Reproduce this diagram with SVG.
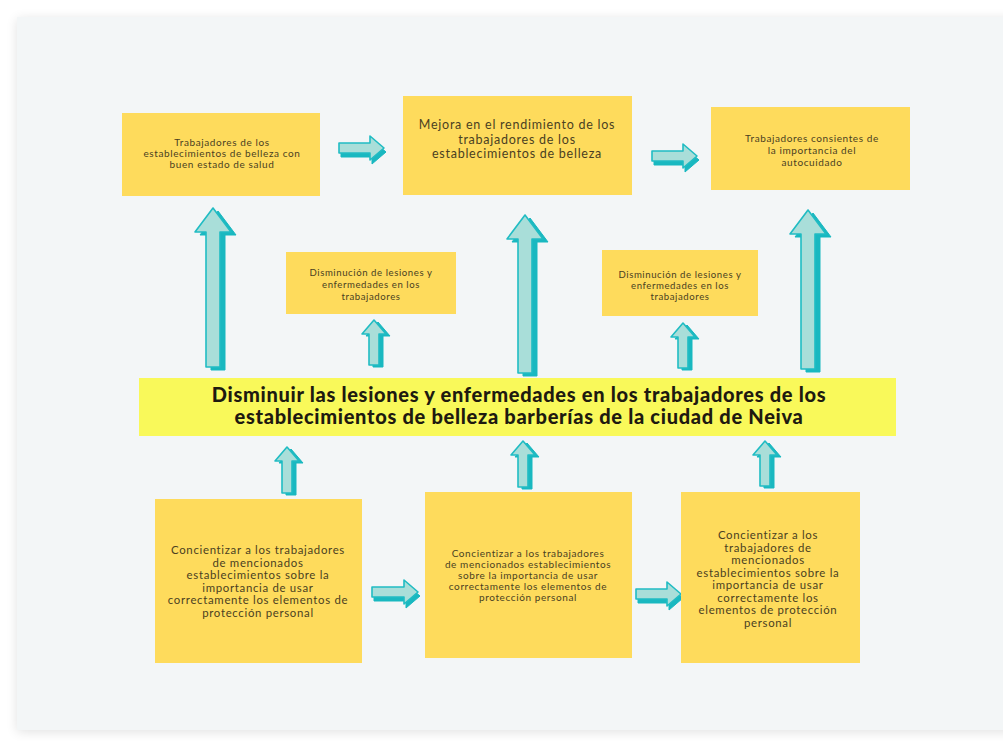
<svg xmlns="http://www.w3.org/2000/svg" width="1003" height="741" viewBox="0 0 1003 741">
<defs>
<filter id="sh" x="-5%" y="-5%" width="110%" height="110%">
<feGaussianBlur in="SourceAlpha" stdDeviation="6"/>
<feOffset dx="0" dy="2"/>
<feComponentTransfer><feFuncA type="linear" slope="0.12"/></feComponentTransfer>
<feMerge><feMergeNode/><feMergeNode in="SourceGraphic"/></feMerge>
</filter>
</defs>
<style>
.box{fill:#fedb5c}
.bar{fill:#f9f95a}
.t{font-family:Lato,"Noto Sans",sans-serif;fill:#4a3f22;text-anchor:middle;letter-spacing:0.06em}
.tb{font-family:Lato,"Liberation Sans",sans-serif;font-weight:900;fill:#1e1a10;text-anchor:middle;font-size:20px;letter-spacing:0.035em}
.ex{fill:#19b8c0;stroke:#19b8c0;stroke-width:1;stroke-linejoin:round}
.fc{fill:#a9ded9;stroke:#20bcc3;stroke-width:1.6;stroke-linejoin:round}
</style>
<rect width="1003" height="741" fill="#ffffff"/>
<rect x="17" y="17" width="1000" height="713" fill="#f3f6f7" filter="url(#sh)"/>

<g id="connectors">
<g transform="translate(5,3)"><polygon class="ex" points="213,208 231,232 220,232 220,367 206,367 206,232 195,232"/></g>
<polygon class="fc" points="213,208 231,232 220,232 220,367 206,367 206,232 195,232"/>
<g transform="translate(5,3)"><polygon class="ex" points="525,215 543,239 532,239 532,373 518,373 518,239 507,239"/></g>
<polygon class="fc" points="525,215 543,239 532,239 532,373 518,373 518,239 507,239"/>
<g transform="translate(5,3)"><polygon class="ex" points="808,210 826,234 815,234 815,369 801,369 801,234 790,234"/></g>
<polygon class="fc" points="808,210 826,234 815,234 815,369 801,369 801,234 790,234"/>
<g transform="translate(4,2)"><polygon class="ex" points="374,320 386,334 379,334 379,365 369,365 369,334 362,334"/></g>
<polygon class="fc" points="374,320 386,334 379,334 379,365 369,365 369,334 362,334"/>
<g transform="translate(4,2)"><polygon class="ex" points="683,323 695,337 688,337 688,368 678,368 678,337 671,337"/></g>
<polygon class="fc" points="683,323 695,337 688,337 688,368 678,368 678,337 671,337"/>
<g transform="translate(4,2)"><polygon class="ex" points="287,447 299,461 292,461 292,493 282,493 282,461 275,461"/></g>
<polygon class="fc" points="287,447 299,461 292,461 292,493 282,493 282,461 275,461"/>
<g transform="translate(4,2)"><polygon class="ex" points="523,441 535,455 528,455 528,487 518,487 518,455 511,455"/></g>
<polygon class="fc" points="523,441 535,455 528,455 528,487 518,487 518,455 511,455"/>
<g transform="translate(4,2)"><polygon class="ex" points="765,441 777,455 770,455 770,486 760,486 760,455 753,455"/></g>
<polygon class="fc" points="765,441 777,455 770,455 770,486 760,486 760,455 753,455"/>
<g transform="translate(2,4)"><polygon class="ex" points="384,148 370,136 370,143 339,143 339,153 370,153 370,160"/></g>
<polygon class="fc" points="384,148 370,136 370,143 339,143 339,153 370,153 370,160"/>
<g transform="translate(2,4)"><polygon class="ex" points="697,156 683,144 683,151 652,151 652,161 683,161 683,168"/></g>
<polygon class="fc" points="697,156 683,144 683,151 652,151 652,161 683,161 683,168"/>
<g transform="translate(2,4)"><polygon class="ex" points="418,592 404,580 404,587 372,587 372,597 404,597 404,604"/></g>
<polygon class="fc" points="418,592 404,580 404,587 372,587 372,597 404,597 404,604"/>
<g transform="translate(2,4)"><polygon class="ex" points="681,594 667,582 667,589 636,589 636,599 667,599 667,606"/></g>
<polygon class="fc" points="681,594 667,582 667,589 636,589 636,599 667,599 667,606"/>
</g>

<g id="top1">
<rect class="box" x="122" y="113" width="198" height="83"/>
<text class="t" font-size="10" x="222"><tspan x="222" y="146">Trabajadores de los</tspan><tspan x="222" y="157">establecimientos de belleza con</tspan><tspan x="222" y="168">buen estado de salud</tspan></text>
</g>
<g id="top2">
<rect class="box" x="403" y="96" width="229" height="99"/>
<text class="t" font-size="12.5" x="517"><tspan x="517" y="129">Mejora en el rendimiento de los</tspan><tspan x="517" y="144">trabajadores de los</tspan><tspan x="517" y="158">establecimientos de belleza</tspan></text>
</g>
<g id="top3">
<rect class="box" x="711" y="107" width="199" height="83"/>
<text class="t" font-size="10" x="812"><tspan x="812" y="142">Trabajadores consientes de</tspan><tspan x="812" y="154">la importancia del</tspan><tspan x="812" y="166">autocuidado</tspan></text>
</g>
<g id="mid1">
<rect class="box" x="286" y="252" width="170" height="62"/>
<text class="t" font-size="9.6" x="371"><tspan x="371" y="276">Disminución de lesiones y</tspan><tspan x="371" y="288">enfermedades en los</tspan><tspan x="371" y="300">trabajadores</tspan></text>
</g>
<g id="mid2">
<rect class="box" x="602" y="250" width="156" height="66"/>
<text class="t" font-size="9.6" x="680"><tspan x="680" y="278">Disminución de lesiones y</tspan><tspan x="680" y="289">enfermedades en los</tspan><tspan x="680" y="300">trabajadores</tspan></text>
</g>
<g id="center">
<rect class="bar" x="139" y="378" width="757" height="58"/>
<text class="tb" x="519"><tspan x="519" y="402">Disminuir las lesiones y enfermedades en los trabajadores de los</tspan><tspan x="519" y="424">establecimientos de belleza barberías de la ciudad de Neiva</tspan></text>
</g>
<g id="bot1">
<rect class="box" x="155" y="499" width="207" height="164"/>
<text class="t" font-size="11.4" x="258"><tspan x="258" y="554">Concientizar a los trabajadores</tspan><tspan x="258" y="566.5">de mencionados</tspan><tspan x="258" y="579">establecimientos sobre la</tspan><tspan x="258" y="591.5">importancia de usar</tspan><tspan x="258" y="604">correctamente los elementos de</tspan><tspan x="258" y="616.5">protección personal</tspan></text>
</g>
<g id="bot2">
<rect class="box" x="425" y="492" width="207" height="166"/>
<text class="t" font-size="10" x="528"><tspan x="528" y="557">Concientizar a los trabajadores</tspan><tspan x="528" y="568">de mencionados establecimientos</tspan><tspan x="528" y="579">sobre la importancia de usar</tspan><tspan x="528" y="590">correctamente los elementos de</tspan><tspan x="528" y="601">protección personal</tspan></text>
</g>
<g id="bot3">
<rect class="box" x="681" y="492" width="179" height="171"/>
<text class="t" font-size="11.4" x="768"><tspan x="768" y="539">Concientizar a los</tspan><tspan x="768" y="551.5">trabajadores de</tspan><tspan x="768" y="564">mencionados</tspan><tspan x="768" y="576.5">establecimientos sobre la</tspan><tspan x="768" y="589">importancia de usar</tspan><tspan x="768" y="601.5">correctamente los</tspan><tspan x="768" y="614">elementos de protección</tspan><tspan x="768" y="626.5">personal</tspan></text>
</g>
</svg>
